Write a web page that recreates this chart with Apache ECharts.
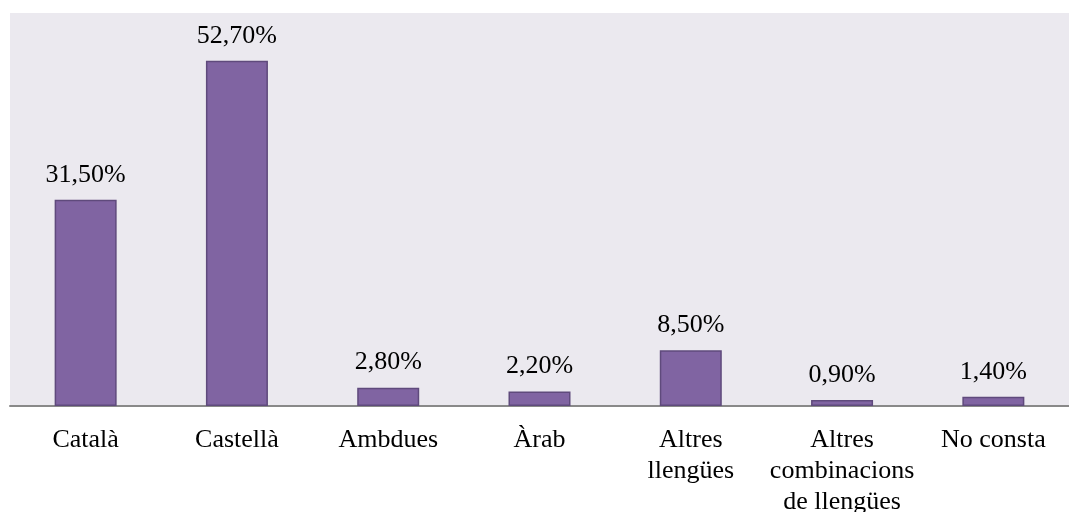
<!DOCTYPE html>
<html><head><meta charset="utf-8">
<script src="https://cdn.jsdelivr.net/npm/echarts@6/dist/echarts.min.js"></script>
<style>html,body{margin:0;padding:0;background:#fff}#c{width:1069px;height:512px}</style>
</head><body><div id="c"></div>
<script>
const categories = ['Català', 'Castellà', 'Ambdues', 'Àrab', 'Altres\nllengües', 'Altres\ncombinacions\nde llengües', 'No consta'];
const values = [31.5, 52.7, 2.8, 2.2, 8.5, 0.9, 1.4];

const chart = echarts.init(document.getElementById('c'));
const font = '"Liberation Serif", "Times New Roman", serif';
chart.setOption({
  animation: false,
  grid: { left: 10, right: 0, top: 13, bottom: 106, show: true, backgroundColor: '#ebe9ef', borderWidth: 0, outerBoundsMode: 'none', containLabel: false },
  xAxis: {
    type: 'category', data: categories,
    axisLine: { lineStyle: { color: '#898989', width: 2 } },
    axisTick: { show: false },
    axisLabel: { interval: 0, color: '#000', fontFamily: font, fontSize: 26, lineHeight: 31, margin: 19 }
  },
  yAxis: { type: 'value', min: 0, max: 60, show: false, splitLine: { show: false } },
  series: [{
    type: 'bar', data: values, barWidth: 62,
    itemStyle: { color: '#8064a2', borderColor: '#5f4a7c', borderWidth: 1.5 },
    label: {
      show: true, position: 'top', distance: 12, color: '#000', fontFamily: font, fontSize: 26,
      formatter: p => p.value.toFixed(2).replace('.', ',') + '%'
    }
  }]
});
</script></body></html>
